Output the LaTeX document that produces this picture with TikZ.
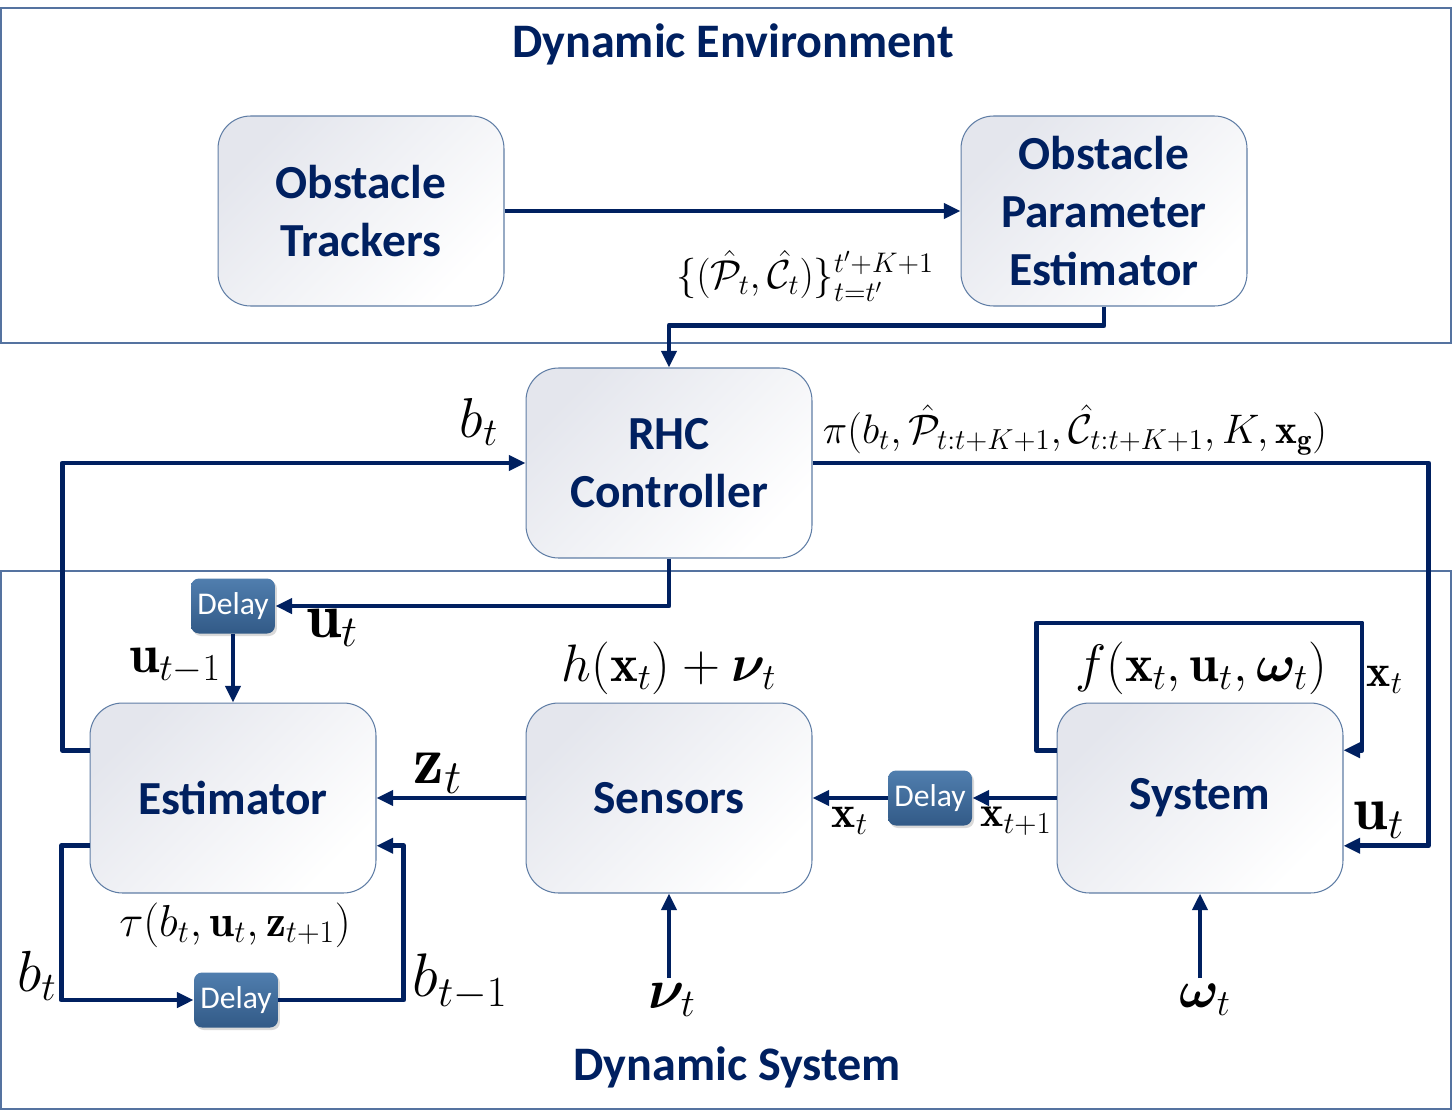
\RequirePackage{fix-cm}
\documentclass[tikz,border=0pt]{standalone}
\usepackage{amsmath,bm}
\usepackage{fontspec}
\newfontfamily\calib{Carlito}
\usetikzlibrary{positioning,arrows.meta,calc,shadows}

\definecolor{navy}{RGB}{0,32,96}
\definecolor{boxedge}{RGB}{95,125,165}
\definecolor{boxtop}{RGB}{228,230,237}
\definecolor{delaytop}{RGB}{80,126,174}
\definecolor{delaybot}{RGB}{50,90,135}
\definecolor{frameedge}{RGB}{85,115,160}

\begin{document}
\begin{tikzpicture}[x=0.02cm, y=-0.02cm, >={Triangle[length=9.5pt,width=8.5pt]}]
\tikzset{block/.style={draw=boxedge, line width=0.6pt, rounded corners=0.65cm, minimum width=5.72cm, minimum height=3.8cm, top color=boxtop, bottom color=white, shading angle=45, align=center, text=navy, font=\calib\bfseries\fontsize{27}{33}\selectfont},delay/.style={rounded corners=0.16cm, minimum width=1.68cm, minimum height=1.1cm, inner sep=0pt, top color=delaytop, bottom color=delaybot, text=white, font=\calib\fontsize{18}{20}\selectfont, drop shadow={shadow xshift=0.04cm, shadow yshift=-0.05cm, opacity=0.3}},arrow/.style={->, draw=navy, line width=2.8pt, line join=round},frame/.style={draw=frameedge, line width=0.6pt},title/.style={text=navy, font=\calib\bfseries\fontsize{27.4}{30}\selectfont},lbl/.style={inner sep=0pt, font=\fontsize{#1}{#1}\selectfont}}
\useasboundingbox (0,0) rectangle (1453,1119);
% the two frames
\draw[frame] (1,8) rectangle (1451,343);
\draw[frame] (1,571) rectangle (1451,1109);
\node[title] (envtitle) at (733,44) {Dynamic Environment};
\node[title] (systitle) at (737,1067) {Dynamic System};
% blocks
\node[block] (trackers) at (361,211) {Obstacle\\Trackers};
\node[block] (paramest) at (1104,211) {Obstacle\\Parameter\\Estimator};
\node[block] (rhc) at (669,463) {RHC\\Controller};
\node[block] (estimator) at (233,798) {Estimator};
\node[block] (sensors) at (669,798) {Sensors};
\node[block] (system) at (1200,798) {System};
\node[delay] (delayu) at (233,606) {Delay};
\node[delay] (delayx) at (930,798) {Delay};
\node[delay] (delayb) at (236,1000) {Delay};
% ports
\coordinate (estout) at ($(estimator.north west)!0.25!(estimator.south west)$);
\coordinate (estloop) at ($(estimator.north west)!0.75!(estimator.south west)$);
\coordinate (estin) at ($(estimator.north east)!0.75!(estimator.south east)$);
\coordinate (bcorner) at ($(estin)+(27,0)$);
\coordinate (sysloopout) at ($(system.north west)!0.25!(system.south west)$);
\coordinate (sysloopin) at ($(system.north east)!0.25!(system.south east)$);
\coordinate (sysuin) at ($(system.north east)!0.75!(system.south east)$);
\coordinate (loopcorner) at (1362,623);
\coordinate (nuin) at (669,978);
\coordinate (omegain) at (1200,978);
% connectors
\draw[arrow] (trackers) -- (paramest);
\draw[arrow] (paramest.south) -- ++(0,19) -| (rhc.north);
\draw[arrow] (rhc.south) |- (delayu.east);
\draw[arrow] (delayu) -- (estimator);
\draw[arrow] (estout) -- ++(-27,0) |- (rhc.west);
\draw[arrow] (rhc.east) -- ++(616,0) |- (sysuin);
\draw[arrow] (sysloopout) -- ++(-20,0) |- (loopcorner) |- (sysloopin);
\draw[arrow] (system.west) -- (delayx.east);
\draw[arrow] (delayx.west) -- (sensors.east);
\draw[arrow] (sensors.west) -- (estimator.east);
\draw[arrow] (estloop) -- ++(-28,0) |- (delayb.west);
\draw[arrow] (delayb.east) -| (bcorner) -- (estin);
\draw[arrow] (nuin) -- (sensors.south);
\draw[arrow] (omegain) -- (system.south);
% labels
\node[lbl=23] (lbl-obs) at (805,276) {$\{(\hat{\mathcal{P}}_t,\hat{\mathcal{C}}_t)\}_{t=t'}^{t'+K+1}$};
\node[lbl=23.5] (lbl-pi) at (1075,430) {$\pi(b_t,\hat{\mathcal{P}}_{t:t+K+1},\hat{\mathcal{C}}_{t:t+K+1},K,\mathbf{x}_{\mathbf{g}})$};
\node[lbl=32] (lbl-bt) at (479,422) {$b_t$};
\node[lbl=36] (lbl-ut) at (332,628) {$\mathbf{u}_t$};
\node[lbl=31] (lbl-utm) at (175,666) {$\mathbf{u}_{t-1}$};
\node[lbl=30] (lbl-h) at (669,668) {$h(\mathbf{x}_t)+\bm{\nu}_t$};
\node[lbl=30] (lbl-f) at (1201,668) {$f(\mathbf{x}_t,\mathbf{u}_t,\bm{\omega}_t)$};
\node[lbl=26] (lbl-xloop) at (1385,680) {$\mathbf{x}_t$};
\node[lbl=39] (lbl-zt) at (438,773) {$\mathbf{z}_t$};
\node[lbl=26] (lbl-xsens) at (850,821) {$\mathbf{x}_t$};
\node[lbl=25] (lbl-xnext) at (1016,821) {$\mathbf{x}_{t+1}$};
\node[lbl=35] (lbl-usys) at (1379,820) {$\mathbf{u}_t$};
\node[lbl=25.5] (lbl-tau) at (235,925) {$\tau(b_t,\mathbf{u}_t,\mathbf{z}_{t+1})$};
\node[lbl=33] (lbl-bloop) at (37,976) {$b_t$};
\node[lbl=35] (lbl-bprev) at (460,982) {$b_{t-1}$};
\node[lbl=32] (lbl-nu) at (672,1000) {$\bm{\nu}_t$};
\node[lbl=30] (lbl-omega) at (1205,1000) {$\bm{\omega}_t$};
\end{tikzpicture}
\end{document}
